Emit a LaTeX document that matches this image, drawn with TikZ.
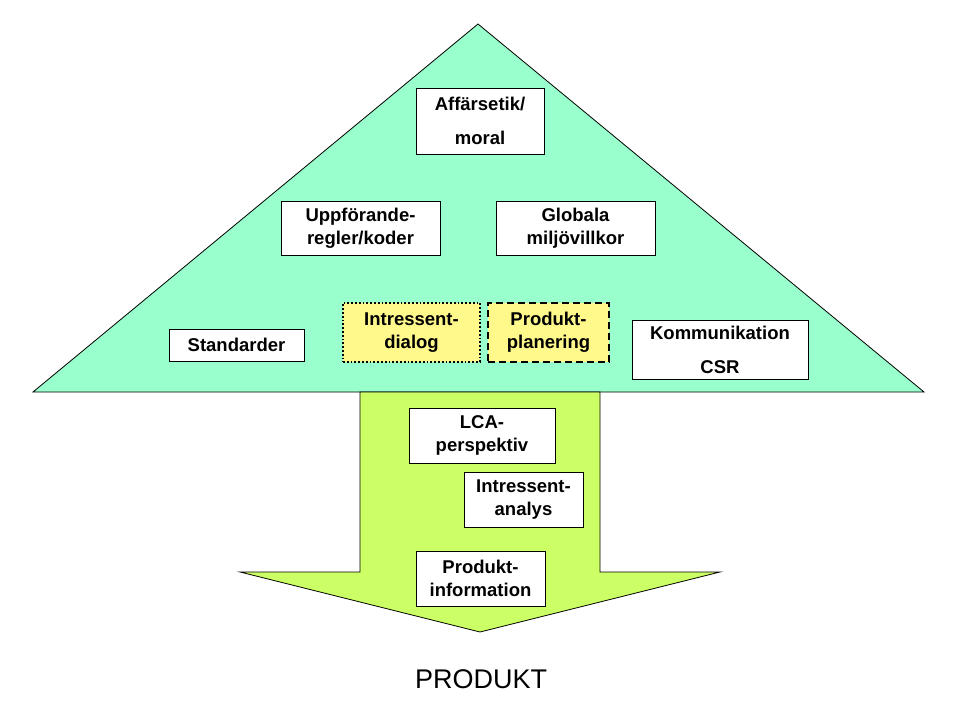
\documentclass[tikz,border=0pt]{standalone}
\usepackage{fontspec}
\setmainfont{Liberation Sans}
\begin{document}
\begin{tikzpicture}[x=1pt,y=-1pt,
  bx/.style={draw=black,fill=white,line width=0.8pt,inner sep=1pt,align=center,font=\bfseries\fontsize{18.5}{23}\selectfont},
  yb/.style={bx,fill=yellow!45,line width=1.8pt}]
\useasboundingbox (0,0) rectangle (960,720);
\fill[white] (0,0) rectangle (960,720);
\draw[fill={rgb,255:red,153;green,255;blue,204},line width=0.8pt] (478,24) -- (924,392) -- (33,392) -- cycle;
\draw[fill={rgb,255:red,204;green,255;blue,102},line width=0.8pt] (360,392) -- (600,392) -- (600,572) -- (720,572) -- (480,632) -- (240,572) -- (360,572) -- cycle;
\node[bx,minimum width=128,minimum height=66,font=\bfseries\fontsize{18.5}{34}\selectfont] (a) at (480,121) {Affärsetik/\\moral};
\node[bx,minimum width=159,minimum height=54] (u) at (360.5,228) {Uppförande-\\regler/koder};
\node[bx,minimum width=159,minimum height=54] (g) at (575.5,228) {Globala\\miljövillkor};
\node[bx,minimum width=135,minimum height=32] (s) at (236.5,345) {Standarder};
\node[yb,dotted,minimum width=137,minimum height=59] (i) at (411.5,332.5) {Intressent-\\dialog};
\node[yb,dash pattern=on 7pt off 4pt,minimum width=121,minimum height=59] (p) at (548.5,332.5) {Produkt-\\planering};
\node[bx,minimum width=176,minimum height=59,font=\bfseries\fontsize{18.5}{34}\selectfont] (k) at (720,349.5) {Kommunikation\\CSR};
\node[bx,minimum width=146,minimum height=55] (l) at (482,435.5) {LCA-\\perspektiv};
\node[bx,minimum width=119,minimum height=55] (ia) at (523.5,499.5) {Intressent-\\analys};
\node[bx,minimum width=129,minimum height=55] (pi) at (480.5,578.5) {Produkt-\\information};
\node[font=\fontsize{27}{30}\selectfont] (prod) at (481,679) {PRODUKT};
\end{tikzpicture}
\end{document}
